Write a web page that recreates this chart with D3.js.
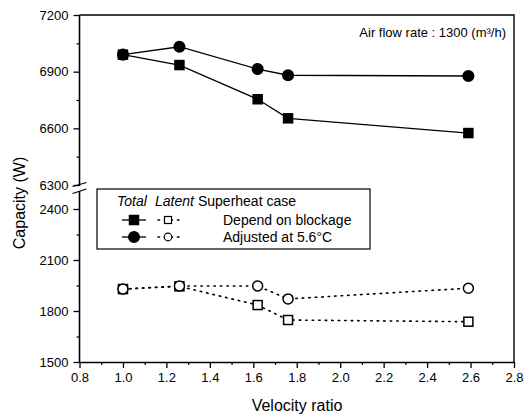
<!DOCTYPE html>
<html>
<head>
<meta charset="utf-8">
<script src="https://cdn.jsdelivr.net/npm/d3@7"></script>
<style>
  body { margin: 0; padding: 0; background: #fff; }
  svg { display: block; font-family: Arial, "Liberation Sans", sans-serif; }
  .tick text { font-size: 13px; fill: #000; }
</style>
</head>
<body>
<svg id="chart" width="527" height="416"></svg>
<script>
  // data
  let velocity       = [1.0, 1.26, 1.62, 1.76, 2.59];
  let totalBlockage  = [6990, 6935, 6754, 6653, 6575];
  let totalAdjusted  = [6990, 7032, 6914, 6881, 6877];
  let latentBlockage = [1929, 1945, 1835, 1747, 1737];
  let latentAdjusted = [1929, 1947, 1947, 1871, 1934];

  let xTicks      = [0.8, 1.0, 1.2, 1.4, 1.6, 1.8, 2.0, 2.2, 2.4, 2.6, 2.8];
  let yTopTicks   = [6300, 6600, 6900, 7200];
  let yBotTicks   = [1500, 1800, 2100, 2400];
  let legendNames = ['Depend on blockage', 'Adjusted at 5.6°C'];

  let svg = d3.select('#chart');

  let mLeft = 79.5, mRight = 514, mTop = 15, mBottom = 362;

  let x    = d3.scaleLinear().domain([0.8, 2.8]).range([mLeft, mRight]);
  let yTop = d3.scaleLinear().domain([6300, 7200]).range([185, mTop]);
  let yBot = d3.scaleLinear().domain([1500, 2500]).range([mBottom, 192]);

  // frame (top + right)
  svg.append('path')
    .attr('d', `M${mLeft},${mTop}H${mRight}V${mBottom}`)
    .attr('fill', 'none').attr('stroke', '#000').attr('stroke-width', 1.4);

  // x axis
  let minorX = d3.range(0.9, 2.8, 0.2);
  svg.append('g')
    .attr('transform', `translate(0,${mBottom})`)
    .call(d3.axisBottom(x).tickValues(minorX).tickSize(3).tickFormat('').tickSizeOuter(0))
    .call(g => g.select('.domain').remove())
    .selectAll('line').attr('stroke-width', 1.2);
  svg.append('g')
    .attr('transform', `translate(0,${mBottom})`)
    .call(d3.axisBottom(x).tickValues(xTicks).tickSize(6).tickPadding(5)
      .tickFormat(d3.format('.1f')).tickSizeOuter(0))
    .call(g => g.select('.domain').attr('stroke-width', 1.6))
    .selectAll('line').attr('stroke-width', 1.3);

  // left axis, upper part
  svg.append('g')
    .attr('transform', `translate(${mLeft},0)`)
    .call(d3.axisLeft(yTop).tickValues([6450, 6750, 7050]).tickSize(3).tickFormat('').tickSizeOuter(0))
    .call(g => g.select('.domain').remove())
    .selectAll('line').attr('stroke-width', 1.2);
  svg.append('g')
    .attr('transform', `translate(${mLeft},0)`)
    .call(d3.axisLeft(yTop).tickValues(yTopTicks).tickSize(6).tickPadding(5)
      .tickFormat(d3.format('d')).tickSizeOuter(0))
    .call(g => g.select('.domain').attr('stroke-width', 1.6).attr('d', `M0,${mTop}V186`))
    .selectAll('line').attr('stroke-width', 1.3);

  // left axis, lower part
  svg.append('g')
    .attr('transform', `translate(${mLeft},0)`)
    .call(d3.axisLeft(yBot).tickValues([1650, 1950, 2250]).tickSize(3).tickFormat('').tickSizeOuter(0))
    .call(g => g.select('.domain').remove())
    .selectAll('line').attr('stroke-width', 1.2);
  svg.append('g')
    .attr('transform', `translate(${mLeft},0)`)
    .call(d3.axisLeft(yBot).tickValues(yBotTicks).tickSize(6).tickPadding(5)
      .tickFormat(d3.format('d')).tickSizeOuter(0))
    .call(g => g.select('.domain').attr('stroke-width', 1.6).attr('d', `M0,191V${mBottom}`))
    .selectAll('line').attr('stroke-width', 1.3);

  // axis break marks
  [[186.5, 182.5], [193.5, 189]].forEach(b => {
    svg.append('line')
      .attr('x1', mLeft - 7).attr('y1', b[0])
      .attr('x2', mLeft + 7).attr('y2', b[1])
      .attr('stroke', '#000').attr('stroke-width', 1.3);
  });

  // axis titles
  svg.append('text')
    .attr('transform', 'translate(25,203) rotate(-90)')
    .attr('text-anchor', 'middle')
    .style('font-size', '16px')
    .text('Capacity (W)');
  svg.append('text')
    .attr('x', 297).attr('y', 411)
    .attr('text-anchor', 'middle')
    .style('font-size', '16px')
    .text('Velocity ratio');

  svg.append('text')
    .attr('x', 506).attr('y', 37)
    .attr('text-anchor', 'end')
    .style('font-size', '13px')
    .text('Air flow rate : 1300 (m³/h)');

  // series
  let pts = (ys) => velocity.map((v, i) => [v, ys[i]]);
  let lineTop = d3.line().x(d => x(d[0])).y(d => yTop(d[1]));
  let lineBot = d3.line().x(d => x(d[0])).y(d => yBot(d[1]));

  [totalBlockage, totalAdjusted].forEach(ys => {
    svg.append('path').attr('d', lineTop(pts(ys)))
      .attr('fill', 'none').attr('stroke', '#000').attr('stroke-width', 1.3);
  });
  [latentBlockage, latentAdjusted].forEach(ys => {
    svg.append('path').attr('d', lineBot(pts(ys)))
      .attr('fill', 'none').attr('stroke', '#000').attr('stroke-width', 1.6)
      .attr('stroke-dasharray', '1.5 5').attr('stroke-linecap', 'round');
  });

  function square(g, cx, cy, filled) {
    g.append('rect')
      .attr('x', cx - 4.5).attr('y', cy - 4.5).attr('width', 9).attr('height', 9)
      .attr('fill', filled ? '#000' : '#fff').attr('stroke', '#000').attr('stroke-width', 1.5);
  }
  function circle(g, cx, cy, filled) {
    g.append('circle')
      .attr('cx', cx).attr('cy', cy).attr('r', filled ? 5.3 : 5)
      .attr('fill', filled ? '#000' : '#fff').attr('stroke', '#000').attr('stroke-width', 1.5);
  }

  let marks = svg.append('g');
  pts(latentBlockage).forEach(d => square(marks, x(d[0]), yBot(d[1]), false));
  pts(latentAdjusted).forEach(d => circle(marks, x(d[0]), yBot(d[1]), false));
  pts(totalBlockage).forEach(d => square(marks, x(d[0]), yTop(d[1]), true));
  pts(totalAdjusted).forEach(d => circle(marks, x(d[0]), yTop(d[1]), true));

  // legend
  let lg = svg.append('g');
  lg.append('rect')
    .attr('x', 97).attr('y', 189).attr('width', 273).attr('height', 60)
    .attr('fill', '#fff').attr('stroke', '#000').attr('stroke-width', 1.2);
  let head = lg.append('text').attr('y', 206).style('font-size', '14px');
  head.append('tspan').attr('x', 117).style('font-style', 'italic').text('Total');
  head.append('tspan').attr('x', 155).style('font-style', 'italic').text('Latent');
  head.append('tspan').attr('dx', 4).text('Superheat case');

  legendNames.forEach((name, i) => {
    let ly = 220 + i * 17;
    lg.append('line').attr('x1', 122).attr('x2', 146).attr('y1', ly).attr('y2', ly)
      .attr('stroke', '#000').attr('stroke-width', 1.3);
    lg.append('line').attr('x1', 158).attr('x2', 182).attr('y1', ly).attr('y2', ly)
      .attr('stroke', '#000').attr('stroke-width', 1.6)
      .attr('stroke-dasharray', '1.5 5').attr('stroke-linecap', 'round');
    if (i === 0) {
      square(lg, 134, ly, true);
      lg.append('rect').attr('x', 164.5).attr('y', ly - 3.5).attr('width', 7).attr('height', 7)
        .attr('fill', '#fff').attr('stroke', '#000').attr('stroke-width', 1.2);
    } else {
      circle(lg, 134, ly, true);
      lg.append('circle').attr('cx', 168).attr('cy', ly).attr('r', 3.8)
        .attr('fill', '#fff').attr('stroke', '#000').attr('stroke-width', 1.2);
    }
    lg.append('text').attr('x', 223).attr('y', ly + 5)
      .style('font-size', '14px').text(name);
  });
</script>
</body>
</html>
